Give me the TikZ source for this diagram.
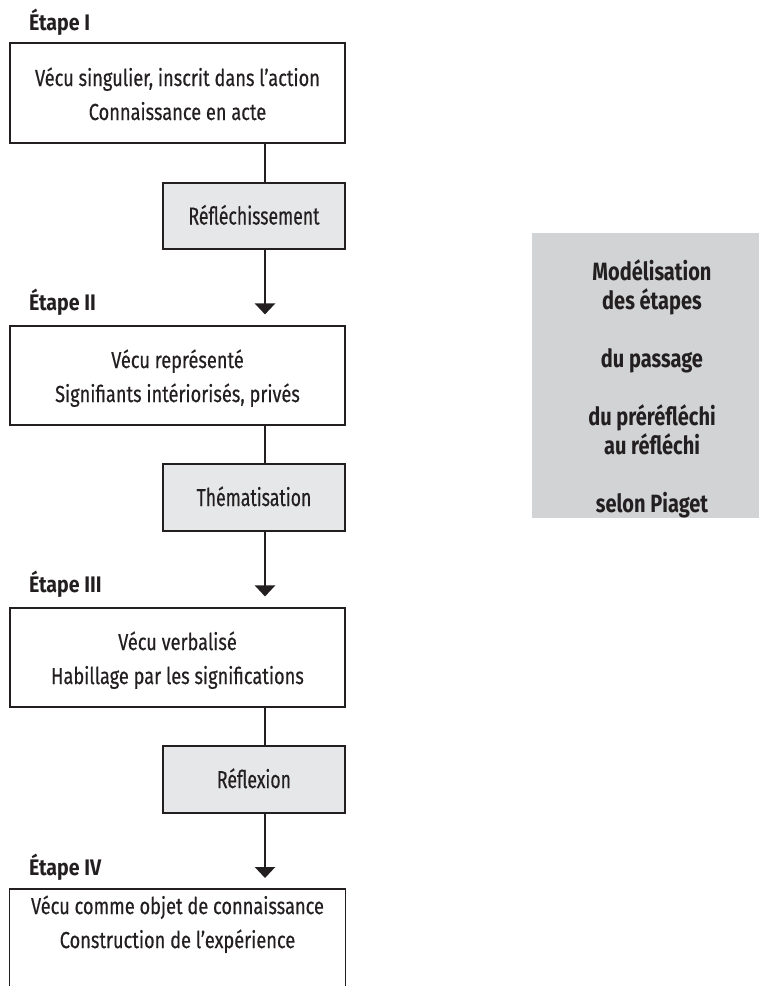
\documentclass[tikz,border=0pt]{standalone}
\usepackage{fontspec}
\setmainfont[FakeStretch=0.785, UprightFeatures={FakeBold=0.4}]{Fira Sans}
\newfontfamily\opfont[FakeStretch=0.72, FakeBold=0.4]{Fira Sans}
\newfontfamily\stagefont[FakeStretch=0.87]{Fira Sans}
\newfontfamily\panelfont[FakeStretch=0.8]{Fira Sans}
\usetikzlibrary{arrows.meta}
\definecolor{ink}{HTML}{231F20}
\definecolor{lightgrey}{HTML}{E6E7E8}
\definecolor{panelgrey}{HTML}{D1D3D4}
\newcommand{\topstrut}{\rule{0pt}{24pt}}
\newcommand{\botstrut}{\rule[-4pt]{0pt}{4pt}}
\begin{document}
\begin{tikzpicture}[x=1pt,y=-1pt,
  stagebox/.style={draw=ink, line width=1.1pt, fill=white, minimum width=335pt, minimum height=100pt, align=center, inner sep=0pt, font=\fontsize{23.2}{34}\selectfont, text=ink},
  opbox/.style={draw=ink, line width=1.1pt, fill=lightgrey, minimum width=182pt, minimum height=66pt, inner sep=0pt, text height=17pt, text depth=0pt, font=\opfont\fontsize{24.5}{30}\selectfont, text=ink},
  stagelabel/.style={anchor=base west, inner sep=0pt, font=\stagefont\bfseries\fontsize{22.5}{26}\selectfont, text=ink},
  panel/.style={fill=panelgrey, minimum width=240pt, minimum height=285pt, inner sep=0pt, anchor=north west},
  paneltext/.style={inner sep=0pt, align=center, font=\panelfont\bfseries\fontsize{25}{29}\selectfont, text=ink},
  link/.style={draw=ink, line width=2.4pt},
  arrowlink/.style={link, -{Triangle[width=20pt,length=11pt]}, shorten >=11pt}
]
\useasboundingbox (0,0) rectangle (759,986);
\clip (0,0) rectangle (759,986);
\fill[white] (0,0) rectangle (759,986);

\coordinate (col) at (265,0);

% right panel
\node[panel] (pan) at (532,233) {};
\node[paneltext] (ptext) at (652,389) {Modélisation\\des étapes\\[29pt]du passage\\[29pt]du préréfléchi\\au réfléchi\\[29pt]selon Piaget};

% stage labels
\node[stagelabel] (l1) at (29,30) {Étape I};
\node[stagelabel] (l2) at (29,310) {Étape II};
\node[stagelabel] (l3) at (29,592) {Étape III};
\node[stagelabel] (l4) at (29,875) {Étape IV};

% stage boxes
\node[stagebox] (b1) at (177.5,93) {\topstrut Vécu singulier, inscrit dans l’action\\Connaissance en acte\botstrut};
\node[stagebox, minimum height=99pt] (b2) at (177.5,375.5) {\topstrut Vécu représenté\\Signifiants intériorisés, privés\botstrut};
\node[stagebox, minimum height=99pt] (b3) at (177.5,657.5) {\topstrut Vécu verbalisé\\Habillage par les significations\botstrut};
\node[stagebox, draw=none, fill=none, minimum height=64pt, anchor=north] (b4) at (177.5,889) {\topstrut Vécu comme objet de connaissance\\Construction de l’expérience\botstrut};
\draw[draw=ink, line width=1.1pt] ([yshift=-200pt]b4.north west) -- (b4.north west) -- (b4.north east) -- ([yshift=-200pt]b4.north east);

% operation boxes
\node[opbox] (g1) at (254,216) {Réfléchissement};
\node[opbox, minimum height=67pt] (g2) at (254,497.5) {Thématisation};
\node[opbox, minimum height=67pt] (g3) at (254,779.5) {Réflexion};

% connectors
\draw[link] (b1.south -| col) -- (g1.north -| col);
\draw[arrowlink] (g1.south -| col) -- (b2.north -| col);
\draw[link] (b2.south -| col) -- (g2.north -| col);
\draw[arrowlink] (g2.south -| col) -- (b3.north -| col);
\draw[link] (b3.south -| col) -- (g3.north -| col);
\draw[arrowlink] (g3.south -| col) -- (b4.north -| col);
\end{tikzpicture}
\end{document}
